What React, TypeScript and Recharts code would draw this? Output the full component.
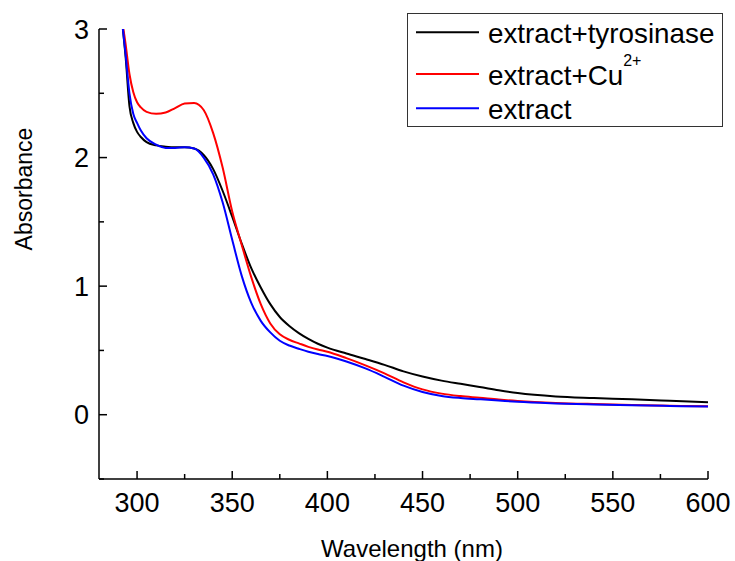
import React from 'react';
import { LineChart, Line, XAxis, YAxis, Legend } from 'recharts';

const FONT = '"Liberation Sans", Arial, sans-serif';

// wavelength (nm)
const wavelength = [290, 292, 294, 296, 298, 300, 302, 305, 310, 315, 320, 325, 330, 335, 340, 345, 350, 355, 360, 365, 370, 375, 380, 385, 390, 395, 400, 410, 420, 430, 440, 450, 460, 470, 480, 490, 500, 520, 540, 560, 580, 600];

const tyrosinase = [3.4, 3.08, 2.78, 2.4, 2.27, 2.2, 2.16, 2.12, 2.095, 2.085, 2.08, 2.08, 2.07, 2.02, 1.91, 1.74, 1.54, 1.33, 1.14, 0.99, 0.86, 0.76, 0.69, 0.635, 0.59, 0.552, 0.522, 0.476, 0.433, 0.388, 0.337, 0.297, 0.265, 0.24, 0.216, 0.19, 0.168, 0.142, 0.13, 0.12, 0.108, 0.096];
const copper = [3.45, 3.1, 2.88, 2.65, 2.51, 2.43, 2.39, 2.355, 2.34, 2.35, 2.385, 2.42, 2.425, 2.37, 2.19, 1.92, 1.58, 1.32, 1.07, 0.86, 0.71, 0.625, 0.583, 0.555, 0.528, 0.507, 0.49, 0.44, 0.384, 0.322, 0.252, 0.197, 0.164, 0.145, 0.132, 0.118, 0.107, 0.092, 0.083, 0.076, 0.07, 0.065];
const extract = [3.4, 3.08, 2.8, 2.5, 2.34, 2.27, 2.21, 2.15, 2.1, 2.075, 2.075, 2.08, 2.07, 2.0, 1.87, 1.65, 1.36, 1.08, 0.87, 0.73, 0.64, 0.575, 0.538, 0.513, 0.49, 0.472, 0.457, 0.414, 0.36, 0.295, 0.226, 0.177, 0.146, 0.13, 0.12, 0.11, 0.1, 0.088, 0.08, 0.074, 0.068, 0.063];

const xTicks = [300, 325, 350, 375, 400, 425, 450, 475, 500, 525, 550, 575, 600];
const yTicks = [-0.5, 0, 0.5, 1, 1.5, 2, 2.5, 3];

const series = [
  { key: 'tyrosinase', name: 'extract+tyrosinase', sup: '', color: '#000000' },
  { key: 'copper', name: 'extract+Cu', sup: '2+', color: '#ff0000' },
  { key: 'extract', name: 'extract', sup: '', color: '#0000ff' },
];

const data = wavelength.map((nm, i) => ({
  nm,
  tyrosinase: tyrosinase[i],
  copper: copper[i],
  extract: extract[i],
}));

// ticks point into the plot, like the original
const XTick = ({ x, y, payload }: any) => {
  const major = payload.value % 50 === 0;
  return (
    <g>
      <line x1={x} y1={y} x2={x} y2={y - (major ? 8 : 5)} stroke="#000" strokeWidth={1.5} />
      {major && (
        <text x={x} y={y + 33} textAnchor="middle" fontSize={27} fontFamily={FONT} fill="#000">
          {payload.value}
        </text>
      )}
    </g>
  );
};

const YTick = ({ x, y, payload }: any) => {
  const major = Number.isInteger(payload.value);
  return (
    <g>
      <line x1={x} y1={y} x2={x + (major ? 8 : 5)} y2={y} stroke="#000" strokeWidth={1.5} />
      {major && (
        <text x={x - 10} y={y + 9.5} textAnchor="end" fontSize={27} fontFamily={FONT} fill="#000">
          {payload.value}
        </text>
      )}
    </g>
  );
};

const XTitle = () => (
  <text x={412} y={557} textAnchor="middle" fontSize={24} fontFamily={FONT} fill="#000">
    Wavelength (nm)
  </text>
);

const YTitle = () => (
  <text x={32} y={189} textAnchor="middle" fontSize={23} fontFamily={FONT} fill="#000" transform="rotate(-90, 32, 189)">
    Absorbance
  </text>
);

const rowY = [19.3, 61, 95.3];

const LegendBox = () => (
  <svg width={317} height={114} style={{ display: 'block' }}>
    <rect x={0.5} y={0.5} width={315} height={113} fill="#fff" stroke="#333" strokeWidth={1} />
    {series.map((s, i) => (
      <g key={s.key}>
        <line x1={9} x2={72} y1={rowY[i]} y2={rowY[i]} stroke={s.color} strokeWidth={2} />
        <text x={81} y={rowY[i] + 10.5} fontSize={27.8} fontFamily={FONT} fill="#000">
          {s.name}
          {s.sup && (
            <tspan dy={-19} fontSize={16}>
              {s.sup}
            </tspan>
          )}
        </text>
      </g>
    ))}
  </svg>
);

export default function App() {
  return (
    <div style={{ position: 'absolute', left: 0, top: 0, width: 735, height: 561, background: '#fff' }}>
      <LineChart width={735} height={561} data={data} margin={{ top: 29, right: 27, bottom: 32, left: 39 }}>
        <XAxis
          dataKey="nm"
          type="number"
          domain={[280, 600]}
          ticks={xTicks}
          interval={0}
          height={50}
          tickSize={0}
          tickMargin={0}
          tickLine={false}
          axisLine={{ stroke: '#000', strokeWidth: 1.5 }}
          tick={<XTick />}
          label={<XTitle />}
        />
        <YAxis
          type="number"
          domain={[-0.5, 3]}
          allowDataOverflow
          ticks={yTicks}
          interval={0}
          width={60}
          tickSize={0}
          tickMargin={0}
          tickLine={false}
          axisLine={{ stroke: '#000', strokeWidth: 1.5 }}
          tick={<YTick />}
          label={<YTitle />}
        />
        {series.map((s) => (
          <Line
            key={s.key}
            type="monotone"
            dataKey={s.key}
            name={s.name}
            stroke={s.color}
            strokeWidth={2}
            dot={false}
            activeDot={false}
            isAnimationActive={false}
          />
        ))}
        <Legend
          layout="vertical"
          align="center"
          verticalAlign="middle"
          content={<LegendBox />}
          wrapperStyle={{ left: 407, top: 13, width: 317, height: 114 }}
        />
      </LineChart>
    </div>
  );
}
